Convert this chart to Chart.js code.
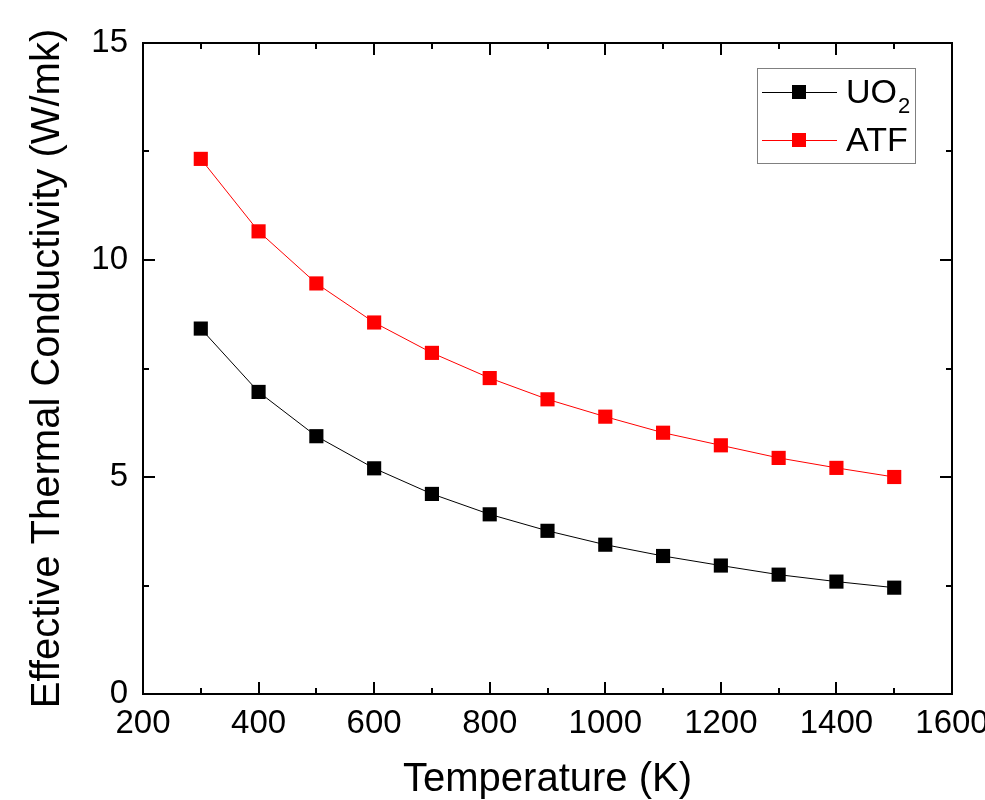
<!DOCTYPE html>
<html>
<head>
<meta charset="utf-8">
<script src="https://cdn.jsdelivr.net/npm/chart.js@4.4.0/dist/chart.umd.min.js"></script>
<style>
html,body{margin:0;padding:0;background:#fff;}
#wrap{width:985px;height:800px;}
</style>
</head>
<body>
<div id="wrap"><canvas id="c" width="985" height="800"></canvas></div>
<script>
const temperatures = [300, 400, 500, 600, 700, 800, 900, 1000, 1100, 1200, 1300, 1400, 1500];
const uo2Values = [8.42, 6.96, 5.94, 5.20, 4.61, 4.14, 3.76, 3.44, 3.18, 2.96, 2.75, 2.59, 2.45];
const atfValues = [12.33, 10.66, 9.46, 8.56, 7.86, 7.28, 6.79, 6.39, 6.02, 5.73, 5.44, 5.21, 5.00];
const seriesNames = ['UO2', 'ATF'];
const seriesColors = ['#000000', '#ff0000'];
const xTitle = 'Temperature (K)';
const yTitle = 'Effective Thermal Conductivity (W/mk)';

const FONT = "'Liberation Sans', Arial, sans-serif";

function toPoints(xs, ys) { return xs.map((x, i) => ({x: x, y: ys[i]})); }

const framePlugin = {
  id: 'frame',
  afterDatasetsDraw(chart) {
    const ctx = chart.ctx;
    const a = chart.chartArea;
    const xs = chart.scales.x, ys = chart.scales.y;
    ctx.save();
    ctx.strokeStyle = '#000';
    ctx.lineWidth = 2;
    ctx.strokeRect(a.left, a.top, a.right - a.left, a.bottom - a.top);
    const MAJ = 12, MIN = 6;
    ctx.beginPath();
    const xt = xs.ticks.map(t => t.value);
    xt.forEach((v, i) => {
      const p = Math.round(xs.getPixelForValue(v));
      ctx.moveTo(p, a.bottom); ctx.lineTo(p, a.bottom - MAJ);
      ctx.moveTo(p, a.top); ctx.lineTo(p, a.top + MAJ);
      if (i < xt.length - 1) {
        const m = Math.round(xs.getPixelForValue((v + xt[i + 1]) / 2));
        ctx.moveTo(m, a.bottom); ctx.lineTo(m, a.bottom - MIN);
        ctx.moveTo(m, a.top); ctx.lineTo(m, a.top + MIN);
      }
    });
    const yt = ys.ticks.map(t => t.value);
    yt.forEach((v, i) => {
      const p = Math.round(ys.getPixelForValue(v));
      ctx.moveTo(a.left, p); ctx.lineTo(a.left + MAJ, p);
      ctx.moveTo(a.right, p); ctx.lineTo(a.right - MAJ, p);
      if (i < yt.length - 1) {
        const m = Math.round(ys.getPixelForValue((v + yt[i + 1]) / 2));
        ctx.moveTo(a.left, m); ctx.lineTo(a.left + MIN, m);
        ctx.moveTo(a.right, m); ctx.lineTo(a.right - MIN, m);
      }
    });
    ctx.stroke();
    ctx.restore();
  },
  afterDraw(chart) {
    const ctx = chart.ctx;
    const a = chart.chartArea;
    ctx.save();
    const bx = a.right - 195, by = a.top + 25, bw = 158, bh = 95;
    ctx.fillStyle = '#fff';
    ctx.fillRect(bx, by, bw, bh);
    ctx.strokeStyle = '#808080';
    ctx.lineWidth = 1;
    ctx.strokeRect(bx + 0.5, by + 0.5, bw, bh);
    chart.data.datasets.forEach((ds, i) => {
      const cy = by + 24 + i * 48;
      ctx.strokeStyle = ds.borderColor;
      ctx.lineWidth = 1;
      ctx.beginPath();
      ctx.moveTo(bx + 5, cy + 0.5); ctx.lineTo(bx + 80, cy + 0.5);
      ctx.stroke();
      ctx.fillStyle = ds.backgroundColor;
      ctx.fillRect(bx + 42 - 7, cy - 7, 14, 14);
      ctx.fillStyle = '#000';
      ctx.textBaseline = 'alphabetic';
      let tx = bx + 89;
      const base = cy + 11;
      const m = ds.label.match(/^([^0-9]*)([0-9]*)$/);
      ctx.font = '34px ' + FONT;
      ctx.fillText(m[1], tx, base);
      tx += ctx.measureText(m[1]).width + 1;
      if (m[2]) {
        ctx.font = '22px ' + FONT;
        ctx.fillText(m[2], tx, base + 10);
      }
    });
    ctx.restore();
  }
};

new Chart(document.getElementById('c'), {
  type: 'line',
  data: {
    datasets: [
      {
        label: seriesNames[0],
        data: toPoints(temperatures, uo2Values),
        borderColor: seriesColors[0],
        backgroundColor: seriesColors[0],
        borderWidth: 1,
        pointStyle: 'rect',
        pointRadius: 10,
        pointBorderWidth: 0,
        tension: 0
      },
      {
        label: seriesNames[1],
        data: toPoints(temperatures, atfValues),
        borderColor: seriesColors[1],
        backgroundColor: seriesColors[1],
        borderWidth: 1,
        pointStyle: 'rect',
        pointRadius: 10,
        pointBorderWidth: 0,
        tension: 0
      }
    ]
  },
  options: {
    responsive: false,
    animation: false,
    layout: { padding: { top: 43, right: 33, left: 0, bottom: 0 } },
    plugins: { legend: { display: false }, tooltip: { enabled: false } },
    scales: {
      x: {
        type: 'linear',
        min: 200, max: 1600,
        grid: { display: false, drawTicks: false },
        border: { display: false },
        ticks: { stepSize: 200, padding: 10, color: '#000', font: { family: FONT, size: 33 }, maxRotation: 0, autoSkip: false,
                 callback: (v) => String(v) },
        title: { display: true, text: xTitle, color: '#000', font: { family: FONT, size: 40, lineHeight: 1 }, padding: { top: 0, bottom: 0 } },
        afterFit(scale) { scale.height = 106; scale.paddingLeft = 0; scale.paddingRight = 0; }
      },
      y: {
        type: 'linear',
        min: 0, max: 15,
        grid: { display: false, drawTicks: false },
        border: { display: false },
        ticks: { stepSize: 5, padding: 15, color: '#000', font: { family: FONT, size: 33 }, callback: (v) => String(v) },
        title: { display: true, text: yTitle, color: '#000', font: { family: FONT, size: 40, lineHeight: 1 }, padding: { top: 28, bottom: 0 } },
        afterFit(scale) { scale.width = 143; scale.paddingTop = 0; scale.paddingBottom = 0; }
      }
    }
  },
  plugins: [framePlugin]
});
</script>
</body>
</html>
